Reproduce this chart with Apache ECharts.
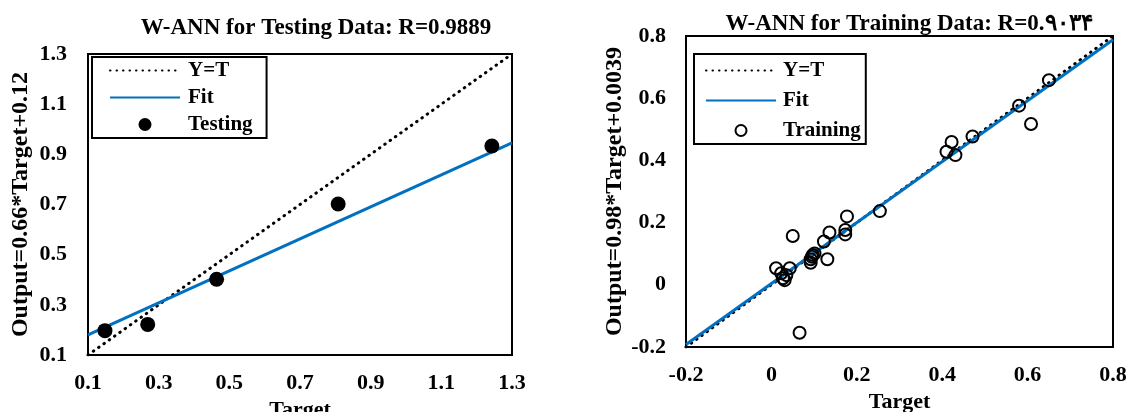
<!DOCTYPE html>
<html><head><meta charset="utf-8">
<script src="https://cdn.jsdelivr.net/npm/echarts@6/dist/echarts.min.js"></script>
<style>html,body{margin:0;padding:0;background:#fff}#c{width:1129px;height:412px}</style>
</head><body><div id="c"></div>
<script>
// ---- Left panel: testing data ----
const testTitle = 'W-ANN for Testing Data: R=0.9889';
const testYName = 'Output=0.66*Target+0.12';
const testTarget = [0.148, 0.269, 0.464, 0.808, 1.243];
const testOutput = [0.197, 0.222, 0.402, 0.702, 0.933];
const testFitX = [0.1, 1.3];
const testFitY = [0.18, 0.946];
const testIdentity = [0.1, 1.3];

// ---- Right panel: training data ----
const trainTitle = 'W-ANN for Training Data: R=0.۹۰۳۴';
const trainYName = 'Output=0.98*Target+0.0039';
const trainTarget = [0.650, 0.580, 0.608, 0.471, 0.422, 0.410, 0.431, 0.254, 0.177, 0.173, 0.173, 0.136, 0.123, 0.050, 0.131, 0.097, 0.092, 0.092, 0.101, 0.095, 0.011, 0.043, 0.023, 0.035, 0.027, 0.031, 0.066];
const trainOutput = [0.658, 0.576, 0.517, 0.477, 0.459, 0.428, 0.417, 0.237, 0.220, 0.176, 0.162, 0.168, 0.139, 0.157, 0.082, 0.096, 0.082, 0.071, 0.101, 0.090, 0.053, 0.053, 0.037, 0.031, 0.021, 0.015, -0.154];
const trainFitX = [-0.2, 0.8];
const trainFitY = [-0.192, 0.788];
const trainIdentity = [-0.2, 0.8];

const xName = 'Target';
const legendNames = ['Y=T', 'Fit'];

const FONT = "'Liberation Serif', 'Times New Roman', 'DejaVu Serif', serif";
const BLUE = '#0070C0';
const pairs = (a, b) => a.map((v, i) => [v, b[i]]);
const fmt = v => (Math.abs(v) < 1e-9 ? '0' : v.toFixed(1));
const txt = (size) => ({ fontFamily: FONT, fontWeight: 'bold', fontSize: size, color: '#000' });
const dotted = { color: '#000', width: 3, type: [0.5, 6], cap: 'round' };
const fitLine = { color: BLUE, width: 3 };
const noSymbol = { color: 'rgba(0,0,0,0)', borderWidth: 0, opacity: 0 };

function valueAxis(gridIndex, min, max, extra) {
  return Object.assign({
    type: 'value', gridIndex, min, max, interval: 0.2,
    axisLine: { show: false }, axisTick: { show: false }, splitLine: { show: false },
    axisLabel: Object.assign(txt(22), { formatter: fmt }),
    nameLocation: 'middle', nameTextStyle: txt(22)
  }, extra);
}

const chart = echarts.init(document.getElementById('c'), null, { renderer: 'canvas' });
chart.setOption({
  animation: false,
  backgroundColor: '#fff',
  title: [
    { text: testTitle, left: 316, top: 17, textAlign: 'center', padding: 0, textStyle: txt(23) },
    { text: trainTitle, left: 909, top: 13, textAlign: 'center', padding: 0, textStyle: txt(23) }
  ],
  grid: [
    { left: 88, top: 54, width: 424, height: 301, show: true, borderColor: '#000', borderWidth: 2, backgroundColor: '#fff', outerBoundsMode: 'none', containLabel: false },
    { left: 686, top: 36, width: 427, height: 311, show: true, borderColor: '#000', borderWidth: 2, backgroundColor: '#fff', outerBoundsMode: 'none', containLabel: false }
  ],
  xAxis: [
    valueAxis(0, testIdentity[0], testIdentity[1], { name: xName, nameGap: 37, axisLabel: Object.assign(txt(22), { formatter: fmt, margin: 17 }) }),
    valueAxis(1, trainIdentity[0], trainIdentity[1], { name: xName, nameGap: 44, axisLabel: Object.assign(txt(22), { formatter: fmt, margin: 17 }) })
  ],
  yAxis: [
    valueAxis(0, testIdentity[0], testIdentity[1], { name: testYName, nameGap: 55, nameTextStyle: txt(24), axisLabel: Object.assign(txt(22), { formatter: fmt, margin: 21 }) }),
    valueAxis(1, trainIdentity[0], trainIdentity[1], { name: trainYName, nameGap: 45, nameTextStyle: txt(24), axisLabel: Object.assign(txt(22), { formatter: fmt, margin: 20 }) })
  ],
  legend: [
    {
      orient: 'vertical', left: 92, top: 57,
      data: [{ name: legendNames[0], itemStyle: noSymbol }, { name: legendNames[1], itemStyle: noSymbol }, { name: 'Testing' }],
      itemWidth: 70, itemHeight: 13, itemGap: 6, padding: [3, 14, 3, 17],
      borderColor: '#000', borderWidth: 2, backgroundColor: '#fff', selectedMode: false,
      textStyle: Object.assign(txt(21), { padding: [0, 0, 0, 3] })
    },
    {
      orient: 'vertical', left: 694, top: 54,
      data: [{ name: legendNames[0], itemStyle: noSymbol }, { name: legendNames[1], itemStyle: noSymbol }, { name: 'Training' }],
      itemWidth: 70, itemHeight: 11, itemGap: 9, padding: [6, 5, 3, 11],
      borderColor: '#000', borderWidth: 2, backgroundColor: '#fff', selectedMode: false,
      textStyle: Object.assign(txt(21), { padding: [0, 0, 0, 2] })
    }
  ],
  series: [
    { name: legendNames[0], type: 'line', xAxisIndex: 0, yAxisIndex: 0, symbol: 'none', data: pairs(testIdentity, testIdentity),
      lineStyle: dotted, itemStyle: { color: '#000' }, z: 2 },
    { name: legendNames[1], type: 'line', xAxisIndex: 0, yAxisIndex: 0, symbol: 'none', data: pairs(testFitX, testFitY),
      lineStyle: fitLine, itemStyle: { color: BLUE }, z: 3 },
    { name: 'Testing', type: 'scatter', xAxisIndex: 0, yAxisIndex: 0, symbol: 'circle', symbolSize: 15,
      data: pairs(testTarget, testOutput), itemStyle: { color: '#000', opacity: 1 }, z: 4 },
    { name: legendNames[0], type: 'line', xAxisIndex: 1, yAxisIndex: 1, symbol: 'none', data: pairs(trainIdentity, trainIdentity),
      lineStyle: dotted, itemStyle: { color: '#000' }, z: 2 },
    { name: legendNames[1], type: 'line', xAxisIndex: 1, yAxisIndex: 1, symbol: 'none', data: pairs(trainFitX, trainFitY),
      lineStyle: fitLine, itemStyle: { color: BLUE }, z: 3 },
    { name: 'Training', type: 'scatter', xAxisIndex: 1, yAxisIndex: 1, symbol: 'circle', symbolSize: 12,
      data: pairs(trainTarget, trainOutput), itemStyle: { color: 'rgba(0,0,0,0)', borderColor: '#000', borderWidth: 2, opacity: 1 }, z: 4 }
  ]
});
</script>
</body></html>
